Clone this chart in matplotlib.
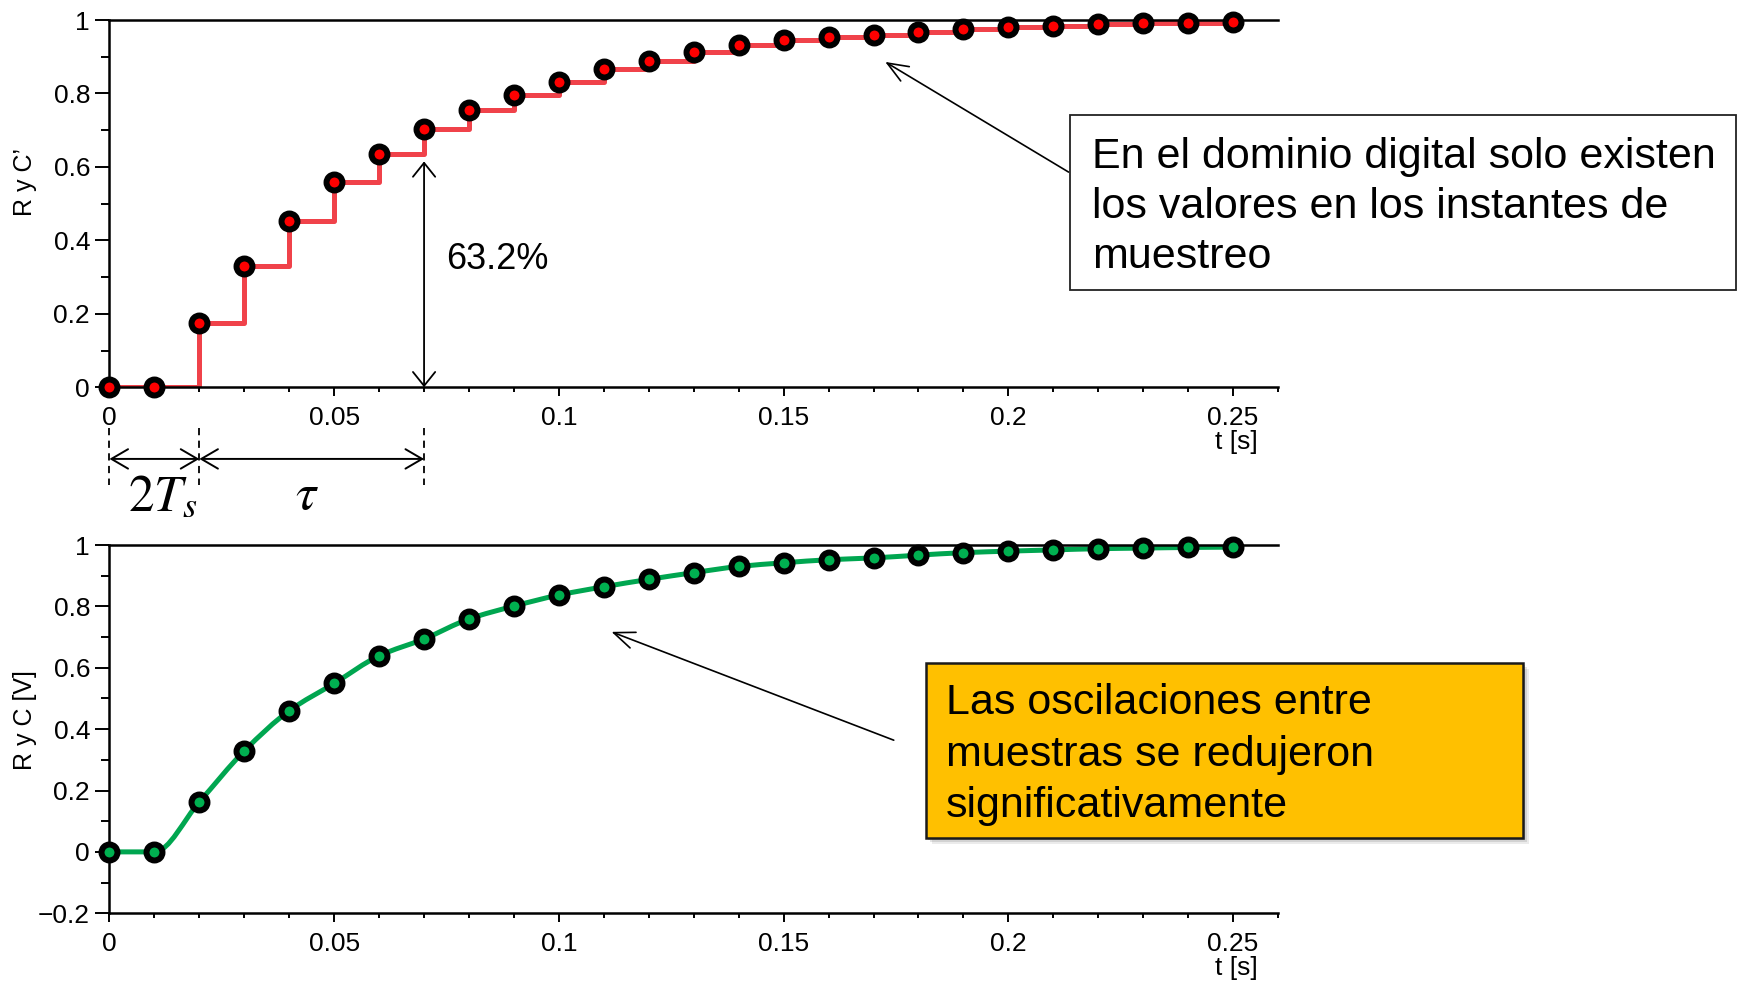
import matplotlib
matplotlib.use('Agg')
import matplotlib.pyplot as plt
import numpy as np
from matplotlib.path import Path
from matplotlib.patches import PathPatch, Rectangle
from matplotlib.ticker import FixedLocator, MultipleLocator

plt.rcParams['font.family'] = ['Liberation Sans', 'DejaVu Sans']

# ---------------------------------------------------------------- data
t_samples = [0.00, 0.01, 0.02, 0.03, 0.04, 0.05, 0.06, 0.07, 0.08, 0.09,
             0.10, 0.11, 0.12, 0.13, 0.14, 0.15, 0.16, 0.17, 0.18, 0.19,
             0.20, 0.21, 0.22, 0.23, 0.24, 0.25]
y_digital = [0.0, 0.0, 0.175, 0.330, 0.454, 0.558, 0.634, 0.703, 0.755, 0.797,
             0.832, 0.867, 0.888, 0.912, 0.931, 0.945, 0.954, 0.960, 0.968, 0.975,
             0.980, 0.984, 0.988, 0.991, 0.993, 0.994]
y_analog = [0.0, 0.0, 0.163, 0.329, 0.460, 0.549, 0.639, 0.694, 0.759, 0.801,
            0.837, 0.864, 0.888, 0.910, 0.930, 0.942, 0.952, 0.958, 0.967, 0.975,
            0.980, 0.984, 0.988, 0.990, 0.992, 0.993]

x_ticks = [0, 0.05, 0.1, 0.15, 0.2, 0.25]
x_ticklabels = ['0', '0.05', '0.1', '0.15', '0.2', '0.25']
y_ticks_top = [0, 0.2, 0.4, 0.6, 0.8, 1.0]
y_ticklabels_top = ['0', '0.2', '0.4', '0.6', '0.8', '1']
y_ticks_bot = [-0.2, 0, 0.2, 0.4, 0.6, 0.8, 1.0]
y_ticklabels_bot = ['\u22120.2', '0', '0.2', '0.4', '0.6', '0.8', '1']

t_delay = 0.02      # 2 Ts
t_tau = 0.07        # end of tau
level_632 = 0.615

note_top = 'En el dominio digital solo existen\nlos valores en los instantes de\nmuestreo'
note_bot = 'Las oscilaciones entre\nmuestras se redujeron\nsignificativamente'

red_line = '#F0424A'
red_fill = '#FF0000'
green_line = '#00A650'
green_fill = '#00B050'

# ---------------------------------------------------------------- figure
fig = plt.figure(figsize=(17.4, 9.82), dpi=100)
ax1 = fig.add_axes([0.0629, 0.6056, 0.6716, 0.374])
ax2 = fig.add_axes([0.0629, 0.0700, 0.6716, 0.375])


def style_axes(ax, yticks, ylabels):
    ax.set_xlim(0, 0.26)
    ax.spines['right'].set_visible(False)
    for s in ('left', 'bottom', 'top'):
        ax.spines[s].set_linewidth(1.8)
    ax.xaxis.set_major_locator(FixedLocator(x_ticks))
    ax.set_xticklabels(x_ticklabels)
    ax.xaxis.set_minor_locator(MultipleLocator(0.01))
    ax.yaxis.set_major_locator(FixedLocator(yticks))
    ax.set_yticklabels(ylabels)
    ax.yaxis.set_minor_locator(MultipleLocator(0.1))
    ax.tick_params(axis='x', which='major', direction='out', length=6.5,
                   width=1.4, pad=7, labelsize=19, top=False)
    ax.tick_params(axis='x', which='minor', direction='out', length=3.6,
                   width=1.4, top=False)
    ax.tick_params(axis='y', which='major', direction='out', length=10,
                   width=1.4, pad=4, labelsize=19, right=False)
    ax.tick_params(axis='y', which='minor', direction='out', length=6,
                   width=1.4, right=False)


# top: sampled staircase
style_axes(ax1, y_ticks_top, y_ticklabels_top)
ax1.set_ylim(0, 1)
ax1.step(t_samples, y_digital, where='post', color=red_line, lw=3.6, zorder=2)
ax1.plot(t_samples, y_digital, ls='none', marker='o', ms=11.5, mew=4.3,
         mfc=red_fill, mec='k', zorder=3, clip_on=False)
ax1.set_ylabel('R y C\u2019', fontsize=18)
ax1.yaxis.set_label_coords(-0.062, 0.559)
ax1.set_xlabel('t [s]', fontsize=19)
ax1.xaxis.set_label_coords(0.9645, -0.116)

# 63.2 % arrow
ax1.annotate('', xy=(t_tau, level_632), xytext=(t_tau, 0),
             arrowprops=dict(arrowstyle='<->,head_length=0.5,head_width=0.4',
                             color='k', lw=1.3, shrinkA=0, shrinkB=0,
                             mutation_scale=20))
ax1.text(0.0749, 0.347, '63.2%', fontsize=26, ha='left', va='center')

# dead time / tau markers below the axis
xtr = ax1.get_xaxis_transform()
for tx in (0, t_delay, t_tau):
    ax1.plot([tx, tx], [-0.11, -0.265], transform=xtr, color='k', lw=1.3,
             ls=(0, (4, 3)), clip_on=False)
for a, b in ((0, t_delay), (t_delay, t_tau)):
    ax1.annotate('', xy=(b, -0.195), xytext=(a, -0.195), xycoords=xtr,
                 textcoords=xtr, annotation_clip=False,
                 arrowprops=dict(arrowstyle='<->,head_length=0.6,head_width=0.35',
                                 color='k', lw=1.4, shrinkA=0, shrinkB=0,
                                 mutation_scale=20))
ax1.text(0.0118, -0.30, r'$2T_s$', transform=xtr, fontsize=37, ha='center',
         va='center', math_fontfamily='stix')
ax1.text(0.0440, -0.295, r'$\tau$', transform=xtr, fontsize=37, ha='center',
         va='center', math_fontfamily='stix')

ax1.annotate('', xy=(0.1726, 0.886), xytext=(0.2134, 0.586),
             arrowprops=dict(arrowstyle='->,head_length=0.75,head_width=0.3',
                             color='k', lw=1.2, shrinkA=0, shrinkB=0,
                             mutation_scale=20))

# bottom: smooth reconstructed curve (monotone cubic bezier through samples)
style_axes(ax2, y_ticks_bot, y_ticklabels_bot)
ax2.set_ylim(-0.2, 1)
xs = np.asarray(t_samples)
ys = np.asarray(y_analog)
h = np.diff(xs)
d = np.diff(ys) / h
m = np.zeros_like(ys)
m[0] = d[0]
m[-1] = d[-1]
for i in range(1, len(xs) - 1):
    if d[i - 1] * d[i] > 0:
        m[i] = 2 * d[i - 1] * d[i] / (d[i - 1] + d[i])
verts = [(xs[0], ys[0])]
codes = [Path.MOVETO]
for i in range(len(xs) - 1):
    verts += [(xs[i] + h[i] / 3, ys[i] + m[i] * h[i] / 3),
              (xs[i + 1] - h[i] / 3, ys[i + 1] - m[i + 1] * h[i] / 3),
              (xs[i + 1], ys[i + 1])]
    codes += [Path.CURVE4] * 3
ax2.add_patch(PathPatch(Path(verts, codes), fill=False, edgecolor=green_line,
                        lw=3.6, zorder=2))
ax2.plot(t_samples, y_analog, ls='none', marker='o', ms=11.5, mew=4.3,
         mfc=green_fill, mec='k', zorder=3, clip_on=False)
ax2.set_ylabel('R y C [V]', fontsize=18)
ax2.yaxis.set_label_coords(-0.062, 0.525)
ax2.set_xlabel('t [s]', fontsize=19)
ax2.xaxis.set_label_coords(0.9645, -0.116)

ax2.annotate('', xy=(0.1117, 0.717), xytext=(0.1745, 0.364),
             arrowprops=dict(arrowstyle='->,head_length=0.75,head_width=0.3',
                             color='k', lw=1.2, shrinkA=0, shrinkB=0,
                             mutation_scale=20))

# ---------------------------------------------------------------- notes
fig.add_artist(Rectangle((0.6149, 0.7047), 0.3828, 0.1782,
                         transform=fig.transFigure, fill=False,
                         edgecolor='#222222', lw=1.3))
fig.text(0.6276, 0.7271, note_top, fontsize=31, ha='left', va='baseline',
         linespacing=1.32)

for k, a in enumerate((0.10, 0.14, 0.20)):
    off = (3 - k) * 0.0012
    fig.add_artist(Rectangle((0.5322 + off, 0.1466 - off * 1.6), 0.3431, 0.1782,
                             transform=fig.transFigure, facecolor='#404040',
                             edgecolor='none', alpha=a))
fig.add_artist(Rectangle((0.5322, 0.1466), 0.3431, 0.1782,
                         transform=fig.transFigure, facecolor='#FFC000',
                         edgecolor='#1a1a1a', lw=1.8))
fig.text(0.5434, 0.1680, note_bot, fontsize=31, ha='left', va='baseline',
         linespacing=1.37)

fig.savefig('out.png', dpi=100)
